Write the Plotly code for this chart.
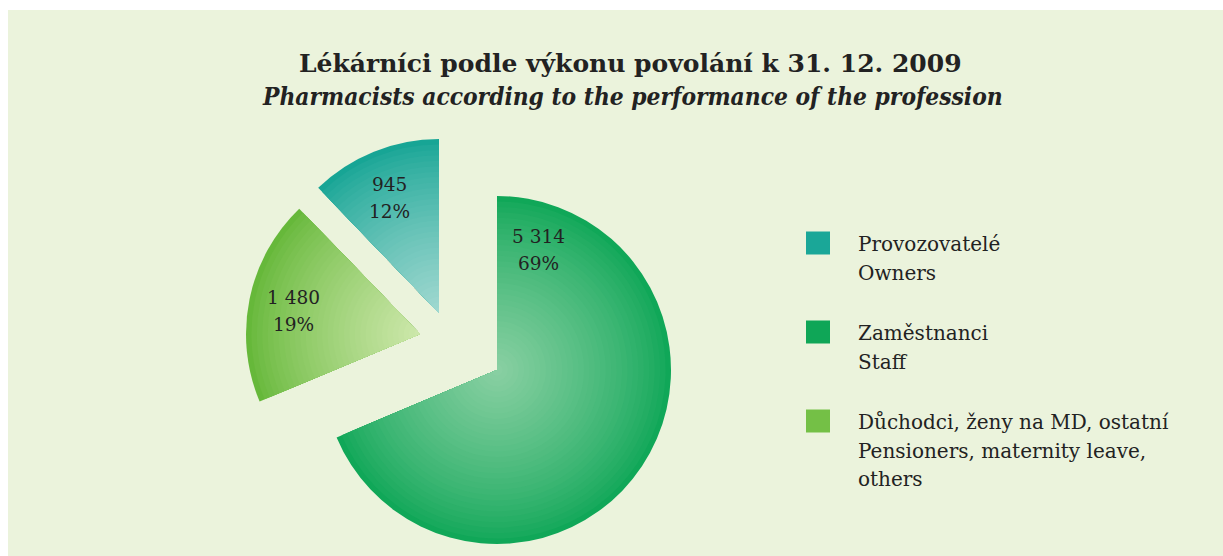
import plotly.graph_objects as go

# ---------------- data ----------------
categories_cz = ["Provozovatelé", "Zaměstnanci", "Důchodci, ženy na MD, ostatní"]
categories_en = [["Owners"], ["Staff"], ["Pensioners, maternity leave,", "others"]]
values = [945, 5314, 1480]
title_cz = "Lékárníci podle výkonu povolání k 31. 12. 2009"
title_en = "Pharmacists according to the performance of the profession"

# ---------------- style ----------------
rim_colors = [(23, 165, 149), (16, 167, 88), (102, 184, 58)]
core_colors = [(160, 216, 208), (136, 207, 162), (204, 231, 170)]
legend_colors = ["#1aa798", "#0fa657", "#74c046"]
bg_panel = "#ebf3dc"
text_color = "#222222"
serif = "DejaVu Serif"

W, H = 1223, 556
R = 174                                       # slice radius (px)
apex = [(439, 313), (497, 370), (420, 334)]   # apex of each exploded slice (px)
label_xy = [(389, 198), (538, 250), (293, 311)]
N_LAYERS = 32

total = sum(values)
rotation = -360.0 * values[0] / total         # first slice ends at 12 o'clock

fig = go.Figure()


def mix(a, b, t):
    return "rgb(%d,%d,%d)" % tuple(round(a[i] + (b[i] - a[i]) * t) for i in range(3))


for k in range(N_LAYERS):
    r = R * (N_LAYERS - k) / N_LAYERS
    t = (k / (N_LAYERS - 1)) ** 0.8
    for i in range(len(values)):
        cx, cy = apex[i]
        cols = ["rgba(0,0,0,0)"] * len(values)
        cols[i] = mix(rim_colors[i], core_colors[i], t)
        fig.add_trace(go.Pie(
            values=values,
            labels=categories_cz,
            sort=False,
            direction="clockwise",
            rotation=rotation,
            marker=dict(colors=cols, line=dict(width=0)),
            textinfo="none",
            hoverinfo="skip",
            showlegend=False,
            domain=dict(x=[(cx - r) / W, (cx + r) / W],
                        y=[1 - (cy + r) / H, 1 - (cy - r) / H]),
        ))

annotations = []
# title
annotations.append(dict(x=630 / W, y=1 - 64 / H, xref="paper", yref="paper",
                        text=f"<b>{title_cz}</b>", showarrow=False,
                        xanchor="center", yanchor="middle",
                        font=dict(family=serif, size=25, color=text_color)))
annotations.append(dict(x=632 / W, y=1 - 96 / H, xref="paper", yref="paper",
                        text=f"<b><i>{title_en}</i></b>", showarrow=False,
                        xanchor="center", yanchor="middle",
                        font=dict(family="DejaVu Serif Condensed, DejaVu Serif",
                                  size=24.3, color=text_color)))

# slice labels
for i, v in enumerate(values):
    x, y = label_xy[i]
    vtxt = f"{v:,}".replace(",", " ")
    ptxt = f"{round(100 * v / total)}%"
    for txt, dy in ((vtxt, -13.5), (ptxt, 13.5)):
        annotations.append(dict(
            x=x / W, y=1 - (y + dy) / H, xref="paper", yref="paper",
            text=txt, showarrow=False, xanchor="center", yanchor="middle",
            font=dict(family=serif, size=18.5, color=text_color)))

# background panel + legend
shapes = [dict(type="rect", xref="paper", yref="paper", x0=8 / W, x1=1,
               y0=0, y1=1 - 10 / H, fillcolor=bg_panel, line=dict(width=0),
               layer="below")]
leg_y = [244, 333, 422]
line_step = 28.7
for i in range(len(values)):
    y0 = leg_y[i]
    shapes.append(dict(type="rect", xref="paper", yref="paper",
                       x0=806 / W, x1=830 / W,
                       y0=1 - (y0 + 10.5) / H, y1=1 - (y0 - 12.5) / H,
                       fillcolor=legend_colors[i], line=dict(width=0)))
    lines = [categories_cz[i]] + categories_en[i]
    for j, ln in enumerate(lines):
        annotations.append(dict(
            x=856 / W, y=1 - (y0 + j * line_step) / H, xref="paper", yref="paper",
            text=ln, showarrow=False, xanchor="left", yanchor="middle",
            font=dict(family=serif, size=20, color=text_color)))

fig.update_layout(
    width=W, height=H,
    margin=dict(l=0, r=0, t=0, b=0),
    paper_bgcolor="white",
    plot_bgcolor="white",
    shapes=shapes,
    annotations=annotations,
)

fig.write_html("out.html",
               config={"displayModeBar": False},
               post_script="document.body.style.margin='0px';")
